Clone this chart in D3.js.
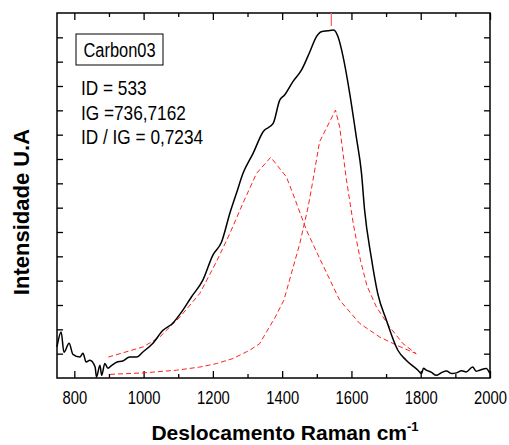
<!DOCTYPE html>
<html>
<head>
<meta charset="utf-8">
<script src="https://cdn.jsdelivr.net/npm/d3@7"></script>
<style>
  body { margin: 0; background: #fff; }
  text { font-family: "Liberation Sans", Arial, sans-serif; }
  .title { font-weight: bold; }
</style>
</head>
<body>
<div id="chart"></div>
<script>
// measured spectrum (Raman shift, intensity)
const spectrumX = [750, 762, 770, 785, 796, 816, 825, 834, 845, 860, 864, 874, 879, 888, 897, 908,
  922, 940, 960, 980, 998, 1027, 1056, 1084, 1113, 1138, 1171, 1200, 1225, 1249, 1268, 1287,
  1316, 1345, 1374, 1393, 1407, 1431, 1456, 1480, 1499, 1513, 1532, 1549, 1561, 1576, 1595,
  1614, 1629, 1638, 1657, 1676, 1701, 1734, 1758, 1792, 1802, 1808, 1816, 1830, 1845, 1860,
  1874, 1890, 1903, 1918, 1931, 1950, 1960, 1970, 1989, 2000];
const spectrumY = [128, 189, 106, 143, 97, 86, 102, 66, 73, 45, 4, 52, 11, 60, 40, 52,
  65, 70, 86, 86, 107, 143, 196, 225, 278, 333, 402, 505, 559, 677, 759, 841,
  923, 1012, 1046, 1142, 1163, 1218, 1266, 1341, 1403, 1423, 1427, 1430, 1403, 1320, 1170,
  991, 842, 690, 498, 347, 237, 114, 73, 32, 18, 40, 32, 24, 11, 22,
  29, 18, 21, 30, 25, 45, 28, 32, 39, 18];

// fitted D band
const bandDX = [898, 999, 1047, 1105, 1162, 1210, 1249, 1287, 1326, 1367, 1412, 1431, 1470,
  1508, 1566, 1624, 1681, 1730, 1787];
const bandDY = [86, 128, 169, 251, 347, 477, 594, 719, 841, 907, 827, 758, 608,
  492, 320, 224, 169, 135, 100];

// fitted G band
const bandGX = [903, 999, 1095, 1162, 1210, 1258, 1306, 1335, 1355, 1380, 1405, 1451, 1475,
  1489, 1508, 1554, 1566, 1585, 1606, 1626, 1645, 1672, 1710, 1749, 1787];
const bandGY = [15, 21, 32, 45, 59, 80, 114, 141, 190, 250, 320, 553, 703,
  813, 971, 1101, 1032, 820, 628, 484, 378, 292, 210, 141, 100];

const peakMarker = 1542;
const xTicks = [800, 1000, 1200, 1400, 1600, 1800, 2000];
const sampleName = "Carbon03";
const infoLines = ["ID = 533", "IG =736,7162", "ID / IG = 0,7234"];

const W = 509, H = 445;
const margin = { top: 13, right: 19, bottom: 67, left: 57 },
      width  = W - margin.left - margin.right,
      height = H - margin.top  - margin.bottom;

// squeeze text horizontally (no narrow font installed)
function narrow(sel, k) {
  sel.each(function() {
    const len = this.getComputedTextLength();
    d3.select(this).attr("textLength", len * k).attr("lengthAdjust", "spacingAndGlyphs");
  });
}

const svg = d3.select("#chart")
  .append("svg")
  .attr("width", W)
  .attr("height", H);

const g = svg.append("g")
  .attr("transform", `translate(${margin.left},${margin.top})`);

const x = d3.scaleLinear().domain([750, 2000]).range([0, width]);
const y = d3.scaleLinear().domain([0, 1500]).range([height, 0]);

const minorX = d3.range(800, 2000, 100).filter(v => v % 200 !== 0);
const yTicks = d3.range(100, 1500, 100);

// bottom axis
const bottomAxis = g.append("g").attr("transform", `translate(0,${height})`);
bottomAxis.call(d3.axisBottom(x).tickValues(xTicks).tickSize(-7).tickPadding(13).tickFormat(d3.format("d")));
bottomAxis.append("g").call(d3.axisBottom(x).tickValues(minorX).tickSize(-4).tickFormat(""));

// top axis
const topAxis = g.append("g");
topAxis.call(d3.axisTop(x).tickValues(xTicks).tickSize(-7).tickFormat(""));
topAxis.append("g").call(d3.axisTop(x).tickValues(minorX).tickSize(-4).tickFormat(""));

// left / right axes, no labels
g.append("g").call(d3.axisLeft(y).tickValues(yTicks).tickSize(-6).tickFormat(""));
g.append("g").attr("transform", `translate(${width},0)`)
  .call(d3.axisRight(y).tickValues(yTicks).tickSize(-6).tickFormat(""));

g.selectAll(".domain").remove();
g.selectAll(".tick line").attr("stroke", "#000").attr("stroke-width", 1.3);
g.selectAll(".tick text").attr("font-size", 18).attr("fill", "#000")
  .attr("font-family", "Liberation Sans, Arial, sans-serif").call(narrow, 0.82);

g.append("rect")
  .attr("width", width).attr("height", height)
  .attr("fill", "none").attr("stroke", "#000").attr("stroke-width", 1.5);

const line = d3.line().x(d => x(d[0])).y(d => y(d[1]));

g.append("path")
  .datum(d3.zip(bandDX, bandDY))
  .attr("d", line)
  .attr("fill", "none").attr("stroke", "#ff2020").attr("stroke-width", 1)
  .attr("stroke-dasharray", "5,3");

g.append("path")
  .datum(d3.zip(bandGX, bandGY))
  .attr("d", line)
  .attr("fill", "none").attr("stroke", "#ff2020").attr("stroke-width", 1)
  .attr("stroke-dasharray", "5,3");

g.append("path")
  .datum(d3.zip(spectrumX, spectrumY))
  .attr("d", line.curve(d3.curveMonotoneX))
  .attr("fill", "none").attr("stroke", "#000").attr("stroke-width", 1.5);

g.append("line")
  .attr("x1", x(peakMarker)).attr("x2", x(peakMarker))
  .attr("y1", 0).attr("y2", 13)
  .attr("stroke", "#f66").attr("stroke-width", 1.3);

// label box
g.append("rect")
  .attr("x", 19).attr("y", 21).attr("width", 87).attr("height", 31)
  .attr("fill", "none").attr("stroke", "#000").attr("stroke-width", 1);
g.append("text")
  .attr("x", 62.5).attr("y", 44).attr("text-anchor", "middle")
  .attr("font-size", 20).text(sampleName)
  .call(narrow, 0.82);

g.selectAll(".info")
  .data(infoLines)
  .join("text")
  .attr("class", "info")
  .attr("x", 24)
  .attr("y", (d, i) => 82 + i * 24.5)
  .attr("font-size", 21)
  .text(d => d)
  .call(narrow, 0.82);

// axis titles
const xt = svg.append("text")
  .attr("class", "title")
  .attr("x", 285).attr("y", 440)
  .attr("text-anchor", "middle")
  .attr("font-size", 21);
xt.append("tspan").text("Deslocamento Raman cm");
xt.append("tspan").attr("font-size", 13).attr("dy", -9).text("-1");

svg.append("text")
  .attr("class", "title")
  .attr("transform", "translate(29,212) rotate(-90)")
  .attr("text-anchor", "middle")
  .attr("font-size", 22)
  .text("Intensidade U.A");
</script>
</body>
</html>
